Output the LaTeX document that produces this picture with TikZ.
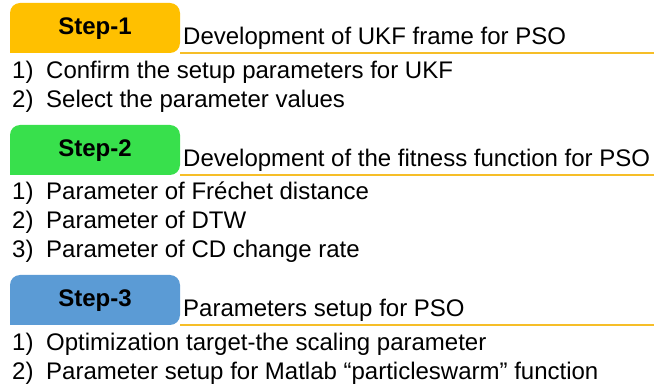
\documentclass[tikz,border=0pt]{standalone}
\usepackage{fontspec}
\setmainfont{Liberation Sans}
\definecolor{tabone}{RGB}{255,192,0}
\definecolor{tabtwo}{RGB}{56,224,76}
\definecolor{tabthree}{RGB}{91,155,213}
\definecolor{barcol}{RGB}{246,190,40}
\begin{document}
\begin{tikzpicture}[x=1pt,y=-1pt,
  txt/.style={inner sep=0pt,anchor=base west,font=\fontsize{24}{28}\selectfont},
  steplabel/.style={inner sep=0pt,anchor=base,font=\fontsize{24}{28}\selectfont\bfseries},
  tabshape/.style={rounded corners=10pt},
  barline/.style={draw=barcol,line width=1.6pt}]
\useasboundingbox (0,0) rectangle (654,390);
% ---- Step 1
\fill[tabone,tabshape] (10,53) -- (10,3) -- (180,3) -- (180,53) [sharp corners] -- cycle;
\coordinate (b1s) at (180,53);
\coordinate (b1e) at (654,53);
\draw[barline] (b1s) -- (b1e);
\node[steplabel] (s1) at (95,35) {Step-1};
\node[txt] (t1) at (183,45) {Development of UKF frame for PSO};
\node[txt] (n11) at (12,79) {1)};
\node[txt] (i11) at (46,79) {Confirm the setup parameters for UKF};
\node[txt] (n12) at (12,108) {2)};
\node[txt] (i12) at (46,108) {Select the parameter values};
% ---- Step 2
\fill[tabtwo,tabshape] (10,175) -- (10,125) -- (180,125) -- (180,175) [sharp corners] -- cycle;
\coordinate (b2s) at (180,175);
\coordinate (b2e) at (654,175);
\draw[barline] (b2s) -- (b2e);
\node[steplabel] (s2) at (95,157) {Step-2};
\node[txt] (t2) at (183,167) {Development of the fitness function for PSO};
\node[txt] (n21) at (12,200) {1)};
\node[txt] (i21) at (46,200) {Parameter of Fréchet distance};
\node[txt] (n22) at (12,229) {2)};
\node[txt] (i22) at (46,229) {Parameter of DTW};
\node[txt] (n23) at (12,258) {3)};
\node[txt] (i23) at (46,258) {Parameter of CD change rate};
% ---- Step 3
\fill[tabthree,tabshape] (10,325) -- (10,275) -- (180,275) -- (180,325) [sharp corners] -- cycle;
\coordinate (b3s) at (180,325);
\coordinate (b3e) at (654,325);
\draw[barline] (b3s) -- (b3e);
\node[steplabel] (s3) at (95,307) {Step-3};
\node[txt] (t3) at (183,317) {Parameters setup for PSO};
\node[txt] (n31) at (12,351) {1)};
\node[txt] (i31) at (46,351) {Optimization target-the scaling parameter};
\node[txt] (n32) at (12,380) {2)};
\node[txt] (i32) at (46,380) {Parameter setup for Matlab “particleswarm” function};
\end{tikzpicture}
\end{document}
